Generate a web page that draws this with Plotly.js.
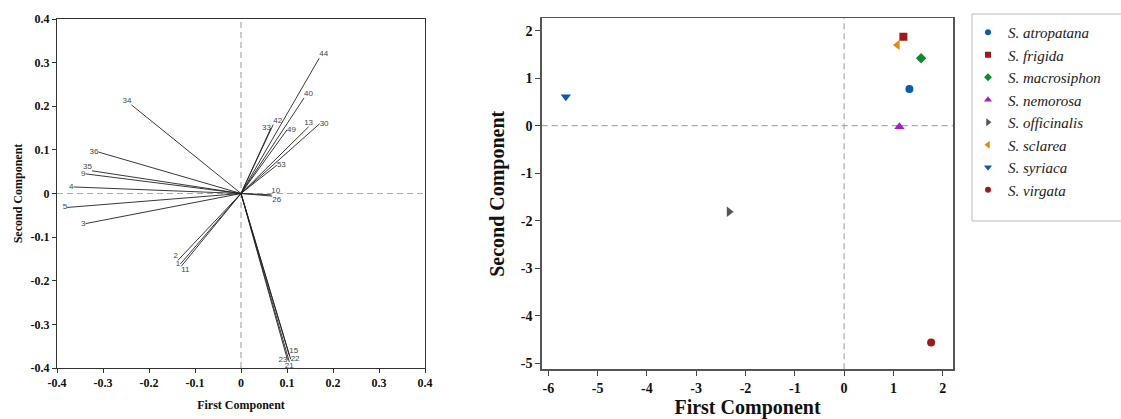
<!DOCTYPE html>
<html>
<head>
<meta charset="utf-8">
<script src="https://cdn.plot.ly/plotly-3.0.1.min.js"></script>
<style>html,body{margin:0;padding:0;background:#fff;}#chart{width:1121px;height:419px;}</style>
</head>
<body>
<div id="chart"></div>
<script>
// ---- Loading plot (left) ----
const varLabels = ['44','40','34','42','33','49','13','30','53','10','26','36','35','9','4','5','3','2','1','11','15','22','23','21'];
const loadPC1 = [0.170,0.137,-0.238,0.070,0.065,0.100,0.147,0.171,0.078,0.066,0.068,-0.310,-0.324,-0.338,-0.364,-0.378,-0.338,-0.137,-0.132,-0.130,0.105,0.108,0.101,0.105];
const loadPC2 = [0.310,0.219,0.203,0.158,0.150,0.146,0.153,0.160,0.065,-0.003,-0.006,0.095,0.052,0.045,0.015,-0.032,-0.069,-0.153,-0.162,-0.167,-0.371,-0.380,-0.381,-0.386];
const labelPos = ['top right','top right','top left','top right','middle left','middle right','top center','middle right','middle right','top right','bottom right','middle left','top left','middle left','middle left','middle left','middle left','top left','middle left','bottom right','top right','middle right','middle left','bottom center'];
const loadTicks = [-0.4,-0.3,-0.2,-0.1,0,0.1,0.2,0.3,0.4];
const loadTickText = ['-0.4','-0.3','-0.2','-0.1','0','0.1','0.2','0.3','0.4'];

// ---- Score plot (right) ----
const species = ['S. atropatana','S. frigida','S. macrosiphon','S. nemorosa','S. officinalis','S. sclarea','S. syriaca','S. virgata'];
const scorePC1 = [1.325,1.203,1.562,1.122,-2.333,1.081,-5.645,1.765];
const scorePC2 = [0.773,1.874,1.419,-0.02,-1.81,1.70,0.61,-4.56];
const spColors = ['#0b5aab','#a01818','#0e8a2c','#a11fc4','#555555','#e08a0c','#0b5aab','#9b1a1a'];
const spSymbols = ['circle','square','diamond','triangle-up','triangle-right','triangle-left','triangle-down','circle'];
const spSizes = [8,8,8,9,9,9,9,8];
const legSizes = [6,6,6,7,7,7,7,6];
const scoreXTicks = [-6,-5,-4,-3,-2,-1,0,1,2];
const scoreXText = ['-6','-5','-4','-3','-2','-1','0','1','2'];
const scoreYTicks = [-5,-4,-3,-2,-1,0,1,2];
const scoreYText = ['-5','-4','-3','-2','-1','0','1','2'];

const serif = 'Liberation Serif, Times New Roman, serif';
const traces = [];

// vectors
const lx = [], ly = [];
for (let i = 0; i < varLabels.length; i++) {
  lx.push(0, loadPC1[i], null);
  ly.push(0, loadPC2[i], null);
}
traces.push({x: lx, y: ly, xaxis: 'x', yaxis: 'y', mode: 'lines', type: 'scatter',
  line: {color: '#222', width: 0.9}, showlegend: false, hoverinfo: 'skip'});
traces.push({x: loadPC1, y: loadPC2, text: varLabels, xaxis: 'x', yaxis: 'y', mode: 'text', type: 'scatter',
  textposition: labelPos, textfont: {family: 'Liberation Sans, Arial, sans-serif', size: 8, color: '#444'},
  showlegend: false, hoverinfo: 'skip', cliponaxis: false});

for (let i = 0; i < species.length; i++) {
  traces.push({x: [scorePC1[i]], y: [scorePC2[i]], xaxis: 'x2', yaxis: 'y2', mode: 'markers', type: 'scatter',
    name: species[i], showlegend: false, marker: {symbol: spSymbols[i], color: spColors[i], size: spSizes[i]}});
}
// legend entries (smaller legend symbols)
for (let i = 0; i < species.length; i++) {
  traces.push({x: [null], y: [null], xaxis: 'x2', yaxis: 'y2', mode: 'markers', type: 'scatter',
    name: species[i], showlegend: true, marker: {symbol: spSymbols[i], color: spColors[i], size: legSizes[i]}});
}

const dash = {color: '#aaaaaa', width: 1.2, dash: '6px,4px'};
const layout = {
  width: 1121, height: 419,
  margin: {l: 0, r: 0, t: 0, b: 0},
  paper_bgcolor: '#fff', plot_bgcolor: '#fff',
  showlegend: true,
  legend: {x: 968/1121, y: 1 - 16/419, xanchor: 'left', yanchor: 'top', bgcolor: 'rgba(0,0,0,0)', borderwidth: 0,
    font: {family: serif, size: 15, color: '#222', style: 'italic'}, itemsizing: 'trace'},
  xaxis: {domain: [57/1121, 425/1121], range: [-0.4, 0.4], tickvals: loadTicks, ticktext: loadTickText,
    showgrid: false, zeroline: false, showline: true, mirror: true, linecolor: '#333', linewidth: 1,
    ticks: 'outside', ticklen: 4, tickcolor: '#333', automargin: false,
    tickfont: {family: serif, size: 12, color: '#111', weight: 'bold'},
    title: {text: 'First Component', font: {family: serif, size: 12, color: '#111', weight: 'bold'}, standoff: 11}},
  yaxis: {domain: [1 - 368/419, 1 - 19/419], range: [-0.4, 0.4], tickvals: loadTicks, ticktext: loadTickText,
    showgrid: false, zeroline: false, showline: true, mirror: true, linecolor: '#333', linewidth: 1,
    ticks: 'outside', ticklen: 4, tickcolor: '#333', automargin: false,
    tickfont: {family: serif, size: 12, color: '#111', weight: 'bold'},
    title: {text: 'Second Component', font: {family: serif, size: 12, color: '#111', weight: 'bold'}, standoff: 5}},
  xaxis2: {domain: [541.7/1121, 953.3/1121], range: [-6.134, 2.215], tickvals: scoreXTicks, ticktext: scoreXText, anchor: 'y2',
    showgrid: false, zeroline: false, showline: true, mirror: true, linecolor: '#555', linewidth: 1.5,
    ticks: 'outside', ticklen: 5, tickcolor: '#444', automargin: false,
    tickfont: {family: serif, size: 14, color: '#111', weight: 'bold'},
    title: {text: 'First Component', font: {family: serif, size: 20, color: '#111', weight: 'bold'}, standoff: 12}},
  yaxis2: {domain: [1 - 369.3/419, 1 - 18.3/419], range: [-5.126, 2.26], tickvals: scoreYTicks, ticktext: scoreYText, anchor: 'x2',
    showgrid: false, zeroline: false, showline: true, mirror: true, linecolor: '#555', linewidth: 1.5,
    ticks: 'outside', ticklen: 5, tickcolor: '#444', automargin: false,
    tickfont: {family: serif, size: 14, color: '#111', weight: 'bold'},
    title: {text: 'Second Component', font: {family: serif, size: 20, color: '#111', weight: 'bold'}, standoff: 10}},
  shapes: [
    {type: 'line', xref: 'x', yref: 'y domain', x0: 0, x1: 0, y0: 0, y1: 1, line: dash, layer: 'below'},
    {type: 'line', xref: 'x domain', yref: 'y', x0: 0, x1: 1, y0: 0, y1: 0, line: dash, layer: 'below'},
    {type: 'line', xref: 'x2', yref: 'y2 domain', x0: 0, x1: 0, y0: 0, y1: 1, line: dash, layer: 'below'},
    {type: 'line', xref: 'x2 domain', yref: 'y2', x0: 0, x1: 1, y0: 0, y1: 0, line: dash, layer: 'below'},
    {type: 'rect', xref: 'paper', yref: 'paper', x0: 972/1121, x1: 1.01, y0: 1 - 221/419, y1: 1 - 14/419,
      line: {color: '#bbbbbb', width: 1}, fillcolor: 'rgba(0,0,0,0)', layer: 'below'}
  ]
};

Plotly.newPlot('chart', traces, layout, {staticPlot: true, displayModeBar: false});
</script>
</body>
</html>
